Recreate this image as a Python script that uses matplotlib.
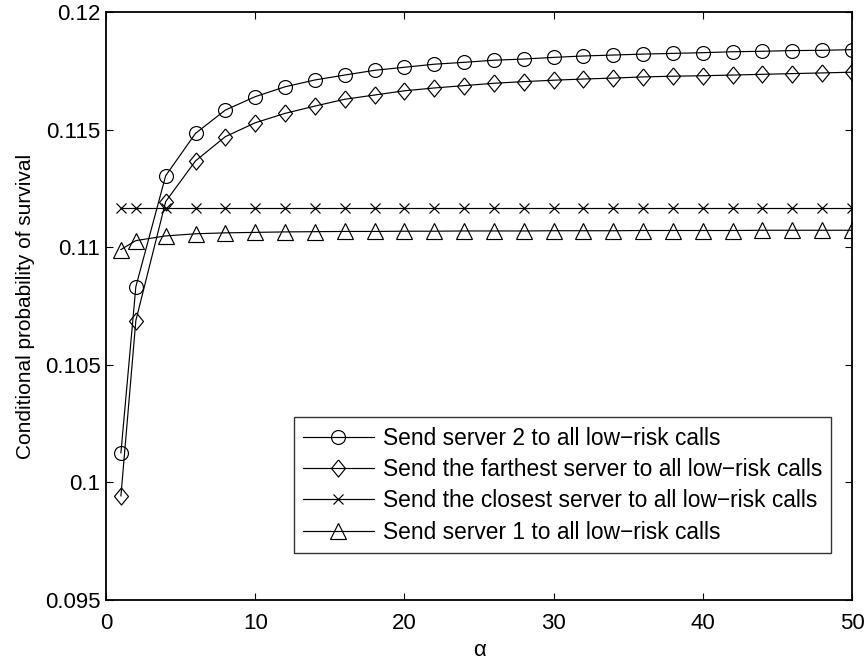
import numpy as np
import matplotlib
matplotlib.use("Agg")
import matplotlib.pyplot as plt

plt.rcParams["font.family"] = ["Liberation Sans", "DejaVu Sans"]

# =========================
# DATA
# =========================
alpha = [1, 2, 4, 6, 8, 10, 12, 14, 16, 18, 20, 22, 24, 26, 28, 30,
         32, 34, 36, 38, 40, 42, 44, 46, 48, 50]

server2 = [0.10126, 0.10832, 0.11304, 0.11484, 0.11583, 0.11640, 0.11682,
           0.11711, 0.11732, 0.11752, 0.11765, 0.11778, 0.11786, 0.11795,
           0.11800, 0.11807, 0.11813, 0.11817, 0.11821, 0.11824, 0.11827,
           0.11831, 0.11833, 0.11836, 0.11837, 0.11840]

farthest = [0.09943, 0.10688, 0.11194, 0.11367, 0.11470, 0.11529, 0.11569,
            0.11600, 0.11629, 0.11647, 0.11665, 0.11677, 0.11687, 0.11697,
            0.11704, 0.11710, 0.11715, 0.11719, 0.11724, 0.11727, 0.11729,
            0.11732, 0.11735, 0.11738, 0.11741, 0.11744]

closest = [0.11167] * len(alpha)

server1 = [0.10990, 0.11028, 0.11048, 0.11057, 0.11061, 0.11063, 0.11065,
           0.11066, 0.11067, 0.11067, 0.11068, 0.11068, 0.11069, 0.11069,
           0.11069, 0.11070, 0.11070, 0.11070, 0.11071, 0.11071, 0.11071,
           0.11071, 0.11072, 0.11072, 0.11072, 0.11072]

labels = [
    "Send server 2 to all low\u2212risk calls",
    "Send the farthest server to all low\u2212risk calls",
    "Send the closest server to all low\u2212risk calls",
    "Send server 1 to all low\u2212risk calls",
]

x_ticks = [0, 10, 20, 30, 40, 50]
y_ticks = [0.095, 0.1, 0.105, 0.11, 0.115, 0.12]
y_tick_labels = ["0.095", "0.1", "0.105", "0.11", "0.115", "0.12"]

# =========================
# PLOT
# =========================
fig = plt.figure(figsize=(8.68, 6.61), dpi=100)
ax = fig.add_axes([106 / 868, 1 - 600 / 661, 746 / 868, 588 / 661])

# MATLAB-style diamond: taller than wide
diamond = [(0, 1), (0.82, 0), (0, -1), (-0.82, 0), (0, 1)]

style = dict(color="black", linewidth=0.85, markerfacecolor="none",
             markeredgecolor="black", markeredgewidth=0.85)
ax.plot(alpha, server2, marker="o", markersize=10, label=labels[0], **style)
ax.plot(alpha, farthest, marker=diamond, markersize=12.3, label=labels[1], **style)
ax.plot(alpha, closest, marker="x", markersize=7, label=labels[2], **style)
ax.plot(alpha, server1, marker="^", markersize=11.5, label=labels[3], **style)

ax.set_xlim(0, 50)
ax.set_ylim(0.095, 0.12)
ax.set_xticks(x_ticks)
ax.set_yticks(y_ticks)
ax.set_yticklabels(y_tick_labels)
ax.tick_params(direction="in", length=5, width=0.8, top=True, right=True,
               labelsize=16, pad=4)
ax.tick_params(axis="x", pad=9.5)
for spine in ax.spines.values():
    spine.set_linewidth(1.3)

ax.set_xlabel("\u03b1", fontsize=16, labelpad=4)
ax.set_ylabel("Conditional probability of survival", fontsize=15, labelpad=7)

leg = ax.legend(loc="lower right", bbox_to_anchor=(0.972, 0.080),
                fontsize=16.4, frameon=True, fancybox=False, edgecolor="black",
                handlelength=3.1, handletextpad=0.4, borderpad=0.4,
                labelspacing=0.37, borderaxespad=0)
leg.get_frame().set_linewidth(1.0)

fig.savefig("out.png", dpi=100)
